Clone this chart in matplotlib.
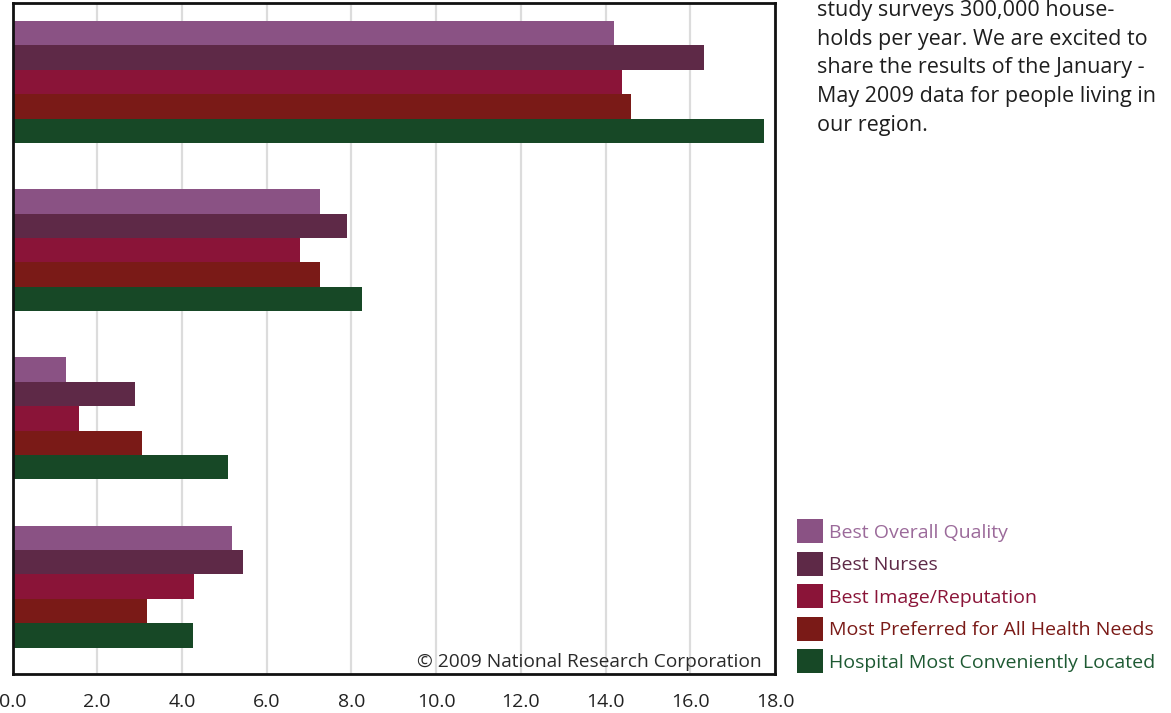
import matplotlib
matplotlib.use("Agg")
import matplotlib.pyplot as plt
import numpy as np

plt.rcParams['font.family'] = ['Open Sans', 'DejaVu Sans']

series = ["Best Overall Quality", "Best Nurses", "Best Image/Reputation",
          "Most Preferred for All Health Needs", "Hospital Most Conveniently Located"]
bar_colors = ["#8A5284", "#5E2947", "#8A1438", "#7A1A17", "#174826"]
text_colors = ["#9B6A9A", "#5E2947", "#8A1438", "#7A1A17", "#1E5A33"]

groups = [0, 1, 2, 3]
values = {
    "Best Overall Quality": [14.2, 7.26, 1.26, 5.18],
    "Best Nurses": [16.33, 7.9, 2.89, 5.45],
    "Best Image/Reputation": [14.38, 6.79, 1.57, 4.29],
    "Most Preferred for All Health Needs": [14.6, 7.26, 3.06, 3.17],
    "Hospital Most Conveniently Located": [17.75, 8.25, 5.09, 4.25],
}
xticks = [0, 2, 4, 6, 8, 10, 12, 14, 16, 18]
xtick_labels = ["0.0", "2.0", "4.0", "6.0", "8.0", "10.0", "12.0", "14.0", "16.0", "18.0"]

intro_lines = [
    "study surveys 300,000 house-",
    "holds per year. We are excited to",
    "share the results of the January -",
    "May 2009 data for people living in",
    "our region.",
]
copyright_text = "\u00a9 2009 National Research Corporation"

W, H = 1171, 713
fig = plt.figure(figsize=(W / 100, H / 100), dpi=100)
fig.patch.set_facecolor("white")
ax = fig.add_axes([12.5 / W, 1 - 674 / H, (775 - 12.5) / W, (674 - 3) / H])

bh = 0.145
y = np.array(groups, dtype=float)
handles = []
for i, s in enumerate(series):
    b = ax.barh(y + (i - 2) * bh, values[s], height=bh, color=bar_colors[i],
                edgecolor="none", zorder=2, label=s)
    handles.append(b)

ax.set_xlim(0, 18)
ax.set_ylim(3.519, -0.469)
ax.set_xticks(xticks)
ax.set_xticklabels(xtick_labels)
ax.set_yticks([])
ax.grid(axis="x", color="#dcdcdc", linewidth=1.6, zorder=0)
ax.tick_params(axis="x", length=0, pad=14, labelsize=14, labelcolor="#222222")
for sp in ax.spines.values():
    sp.set_linewidth(2.0)
    sp.set_color("#111111")

ax.text(0.9825, 0.0104, copyright_text, transform=ax.transAxes, ha="right",
        va="baseline", fontsize=13.8, color="#2a2a2a", zorder=3)

for k, line in enumerate(intro_lines):
    fig.text(817 / W, 1 - (16 + k * 28.7) / H, line, ha="left", va="baseline",
             fontsize=15.5, color="#1e1e1e")

leg = fig.legend(handles=handles, labels=series, loc="upper left",
                 bbox_to_anchor=(797 / W, 1 - 519 / H), frameon=False,
                 fontsize=14, handlelength=1.35, handleheight=1.55,
                 labelspacing=0.42, handletextpad=0.3, borderpad=0,
                 borderaxespad=0)
for t, c in zip(leg.get_texts(), text_colors):
    t.set_color(c)

fig.savefig("out.png", dpi=100)
